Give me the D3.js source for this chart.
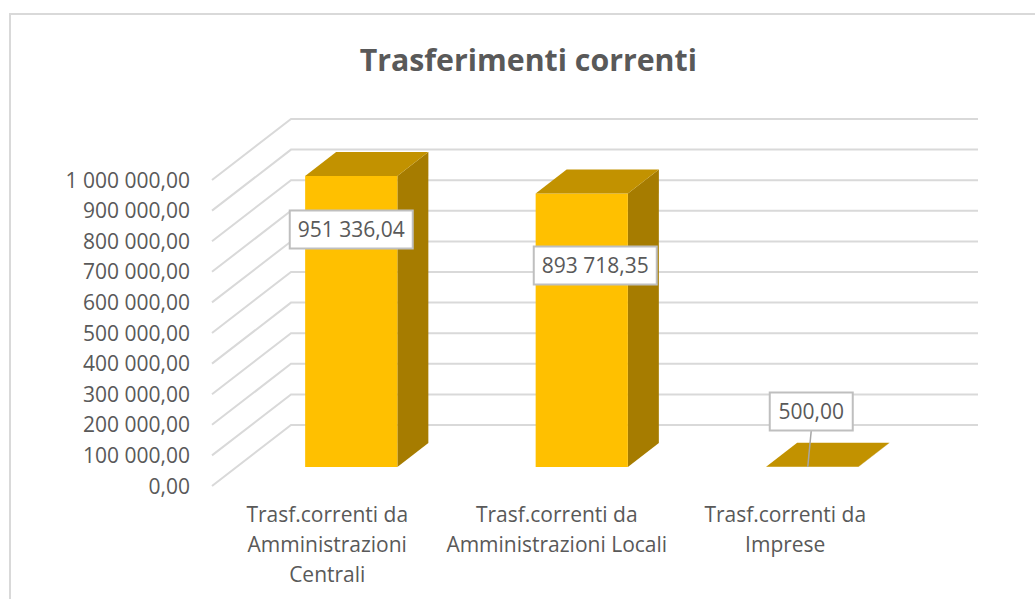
<!DOCTYPE html>
<html><head><meta charset="utf-8">
<script src="https://cdnjs.cloudflare.com/ajax/libs/d3/7.8.5/d3.min.js"></script>
<style>html,body{margin:0;padding:0;background:#fff}svg{display:block}text{font-family:"Open Sans",sans-serif;fill:#595959}</style>
</head><body><svg id="c" width="1035" height="599"></svg>
<script>
const title = "Trasferimenti correnti";
const categories = [["Trasf.correnti da","Amministrazioni","Centrali"],["Trasf.correnti da","Amministrazioni Locali"],["Trasf.correnti da","Imprese"]];
const values = [951336.04, 893718.35, 500];
const valueLabels = ["951 336,04","893 718,35","500,00"];
const ticks = [0,100000,200000,300000,400000,500000,600000,700000,800000,900000,1000000];
const tickLabels = ["0,00","100 000,00","200 000,00","300 000,00","400 000,00","500 000,00","600 000,00","700 000,00","800 000,00","900 000,00","1 000 000,00"];

const svg = d3.select("#c");
svg.append("path").attr("d","M10,599V14H1035").attr("fill","none").attr("stroke","#d9d9d9").attr("stroke-width",2);
svg.append("text").attr("x",528.3).attr("y",70.5).attr("text-anchor","middle").attr("font-size",30.3).attr("font-weight",700).text(title);

const y = d3.scaleLinear().domain([0,1000000]).range([486,180]);
const x = d3.scaleBand().domain(d3.range(3)).range([211.5,903]).paddingInner(0.6).paddingOuter(0.3);
const wallDX = 79, wallDY = -61, backRight = 978;
const barDX = 31, barDY = -24, floorDX = 24.5, floorDY = -19;
const fontSize = 21;

const grid = svg.append("g");
ticks.forEach((t,i)=>{
  const py = y(t);
  grid.append("path").attr("fill","none").attr("stroke","#d9d9d9").attr("stroke-width",2)
    .attr("d",d3.line()([[212,py],[212+wallDX,py+wallDY],[backRight,py+wallDY]]));
  svg.append("text").attr("x",190).attr("y",py+7.6).attr("text-anchor","end").attr("font-size",fontSize).text(tickLabels[i]);
});

values.forEach((v,i)=>{
  const x0 = x(i)+floorDX, x1 = x0+x.bandwidth();
  const b = y(0)+floorDY, t = y(v)+floorDY;
  const line = d3.line();
  svg.append("path").attr("fill","#a67c00").attr("d",line([[x1,b],[x1+barDX,b+barDY],[x1+barDX,t+barDY],[x1,t]])+"Z");
  svg.append("rect").attr("x",x0).attr("y",t).attr("width",x1-x0).attr("height",b-t).attr("fill","#ffc000");
  svg.append("path").attr("fill","#c29200").attr("d",line([[x0,t],[x1,t],[x1+barDX,t+barDY],[x0+barDX,t+barDY]])+"Z");
});

const labelOffsets = [[0,-237.5],[13.5,-201.5],[-1,-55.5]];
values.forEach((v,i)=>{
  const cx = x(i)+floorDX+x.bandwidth()/2 + labelOffsets[i][0];
  const cy = y(0)+floorDY + labelOffsets[i][1];
  const w = i==2?83:123, h = 38;
  if(i==2) svg.append("line").attr("x1",cx).attr("y1",cy+h/2).attr("x2",cx-3.5).attr("y2",467).attr("stroke","#a6a6a6").attr("stroke-width",1.5);
  svg.append("rect").attr("x",cx-w/2).attr("y",cy-h/2).attr("width",w).attr("height",h).attr("fill","#fff").attr("stroke","#bfbfbf").attr("stroke-width",2);
  svg.append("text").attr("x",cx).attr("y",cy+7.5).attr("text-anchor","middle").attr("font-size",fontSize).text(valueLabels[i]);
});

const catOffsets = [-24,-25,-27];
categories.forEach((lines,i)=>{
  const cx = x(i)+floorDX+x.bandwidth()/2 + catOffsets[i];
  lines.forEach((l,j)=>{
    svg.append("text").attr("x",cx).attr("y",521.5+j*30).attr("text-anchor","middle").attr("font-size",fontSize).text(l);
  });
});
</script></body></html>
